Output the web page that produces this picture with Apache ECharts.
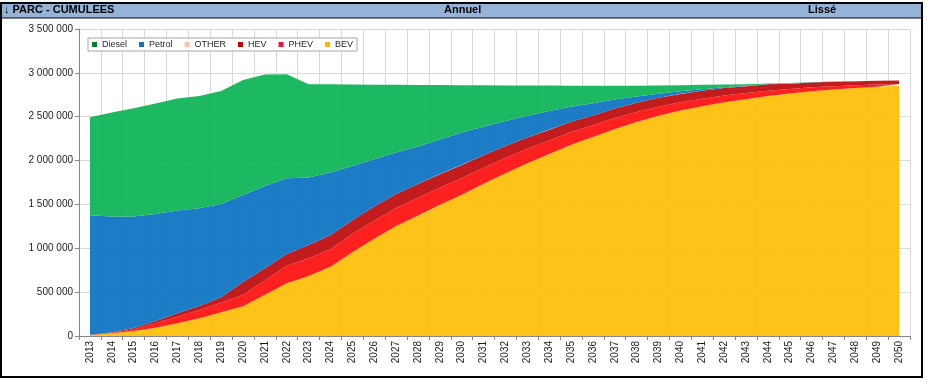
<!DOCTYPE html>
<html>
<head>
<meta charset="utf-8">
<script src="https://cdn.jsdelivr.net/npm/echarts@6/dist/echarts.min.js"></script>
<style>
html,body{margin:0;padding:0;background:#fff;}
#chart{width:927px;height:382px;}
</style>
</head>
<body>
<div id="chart"></div>
<script>
const years = ['2013','2014','2015','2016','2017','2018','2019','2020','2021','2022','2023','2024','2025','2026','2027','2028','2029','2030','2031','2032','2033','2034','2035','2036','2037','2038','2039','2040','2041','2042','2043','2044','2045','2046','2047','2048','2049','2050'];
const BEV    = [10000,30000,57000,95000,144000,201000,270000,340000,470000,600000,684000,790000,955000,1110000,1255000,1375000,1495000,1610000,1735000,1855000,1970000,2075000,2180000,2270000,2360000,2440000,2510000,2570000,2620000,2665000,2700000,2735000,2765000,2790000,2810000,2828000,2842000,2852000];
const PHEV   = [2000,6000,19000,49000,76000,95000,110000,130000,165000,200000,202000,198000,210000,205000,203000,200000,195000,190000,183000,175000,165000,155000,145000,132000,125000,115000,105000,95000,86000,77000,70000,62000,50000,45000,38000,32000,26000,20000];
const HEV    = [2000,6000,14000,27000,38000,46000,61000,145000,136000,135000,151000,163000,155000,160000,160000,158000,155000,150000,142000,135000,128000,122000,117000,112000,108000,104000,100000,95000,90000,84000,78000,72000,62000,55000,50000,45000,42000,40000];
const OTHER  = [1000,1000,1000,1000,1000,1000,1000,1000,1000,1000,1000,1000,1000,1000,1000,1000,1000,1000,1000,1000,1000,1000,1000,1000,1000,1000,1000,1000,1000,1000,1000,1000,1000,1000,1000,1000,1000,1000];
const Petrol = [1362000,1320000,1272000,1220000,1171000,1113000,1064000,992000,939000,863000,768000,711000,618000,539000,472000,427000,395000,368000,326000,286000,245000,213000,172000,139000,102000,71000,47000,28000,17000,10000,6000,4000,2000,1000,1000,1000,0,0];
const Diesel = [1117000,1184000,1234000,1258000,1277000,1281000,1288000,1311000,1269000,1185000,1064000,1007000,928000,850000,772000,700000,620000,540000,471000,405000,347000,289000,239000,199000,157000,123000,93000,70000,49000,30000,16000,6000,3000,2000,1000,1000,0,0];
const yTicks = [0,500000,1000000,1500000,2000000,2500000,3000000,3500000];

const seriesDefs = [
  {name:'BEV', data:BEV, legend:'#FFB800', area:'#FDC00C'},
  {name:'PHEV', data:PHEV, legend:'#F0143C', area:'#FF1414'},
  {name:'HEV', data:HEV, legend:'#C00000', area:'#BF1013'},
  {name:'OTHER', data:OTHER, legend:'#F8C4A8', area:'#F8C4A8'},
  {name:'Petrol', data:Petrol, legend:'#1A73BA', area:'#1075C2'},
  {name:'Diesel', data:Diesel, legend:'#0E7A2C', area:'#11B45A'}
];

function fmt(v){ return String(v).replace(/\B(?=(\d{3})+(?!\d))/g,' '); }

const chart = echarts.init(document.getElementById('chart'), null, {renderer:'canvas'});
const option = {
  animation:false,
  backgroundColor:'#fff',
  textStyle:{fontFamily:'"Liberation Sans", Arial, sans-serif'},
  grid:{left:79, right:17, top:29, bottom:46, containLabel:false},
  legend:{
    data:['Diesel','Petrol','OTHER','HEV','PHEV','BEV'],
    left:88, top:38,
    orient:'horizontal',
    icon:'rect', itemWidth:5, itemHeight:5, itemGap:12,
    padding:[2,4,2,4],
    borderColor:'#A6A6A6', borderWidth:1, backgroundColor:'#fff',
    textStyle:{fontSize:9, color:'#262626', fontFamily:'"Liberation Sans", Arial, sans-serif'}
  },
  xAxis:{
    type:'category', data:years, boundaryGap:true,
    axisLine:{lineStyle:{color:'#868686'}},
    axisTick:{show:true, interval:0, length:4, lineStyle:{color:'#868686'}},
    axisLabel:{interval:0, rotate:90, fontSize:10, color:'#1a1a1a', margin:5},
    splitLine:{show:true, interval:0, lineStyle:{color:'#D9D9D9'}}
  },
  yAxis:{
    type:'value', min:0, max:3500000, interval:500000,
    axisLine:{show:true, lineStyle:{color:'#868686'}},
    axisTick:{show:true, length:4, lineStyle:{color:'#868686'}},
    axisLabel:{fontSize:10, color:'#1a1a1a', margin:6, formatter:function(v){return yTicks.indexOf(v)>=0?fmt(v):'';}},
    splitLine:{show:true, lineStyle:{color:'#D9D9D9'}}
  },
  series: seriesDefs.map(function(s){
    return {
      name:s.name, type:'line', stack:'total', data:s.data,
      symbol:'none', smooth:false,
      lineStyle:{width:0, opacity:0},
      itemStyle:{color:s.legend},
      areaStyle:{color:s.area, opacity:0.95},
      emphasis:{disabled:true}
    };
  }),
  graphic:[
    {type:'rect', shape:{x:1, y:3, width:921, height:15}, style:{fill:'#95B3D7', stroke:'#000', lineWidth:1}, z:10},
    {type:'rect', shape:{x:1, y:3, width:921, height:374}, style:{fill:null, stroke:'#000', lineWidth:2}, z:10},
    {type:'text', left:4, top:4, style:{text:'\u2193 PARC - CUMULEES', font:'bold 11px "Liberation Sans", Arial, sans-serif', fill:'#000'}, z:11},
    {type:'text', left:444, top:4, style:{text:'Annuel', font:'bold 11px "Liberation Sans", Arial, sans-serif', fill:'#000'}, z:11},
    {type:'text', left:808, top:4, style:{text:'Lissé', font:'bold 11px "Liberation Sans", Arial, sans-serif', fill:'#000'}, z:11}
  ]
};
chart.setOption(option);
</script>
</body>
</html>
